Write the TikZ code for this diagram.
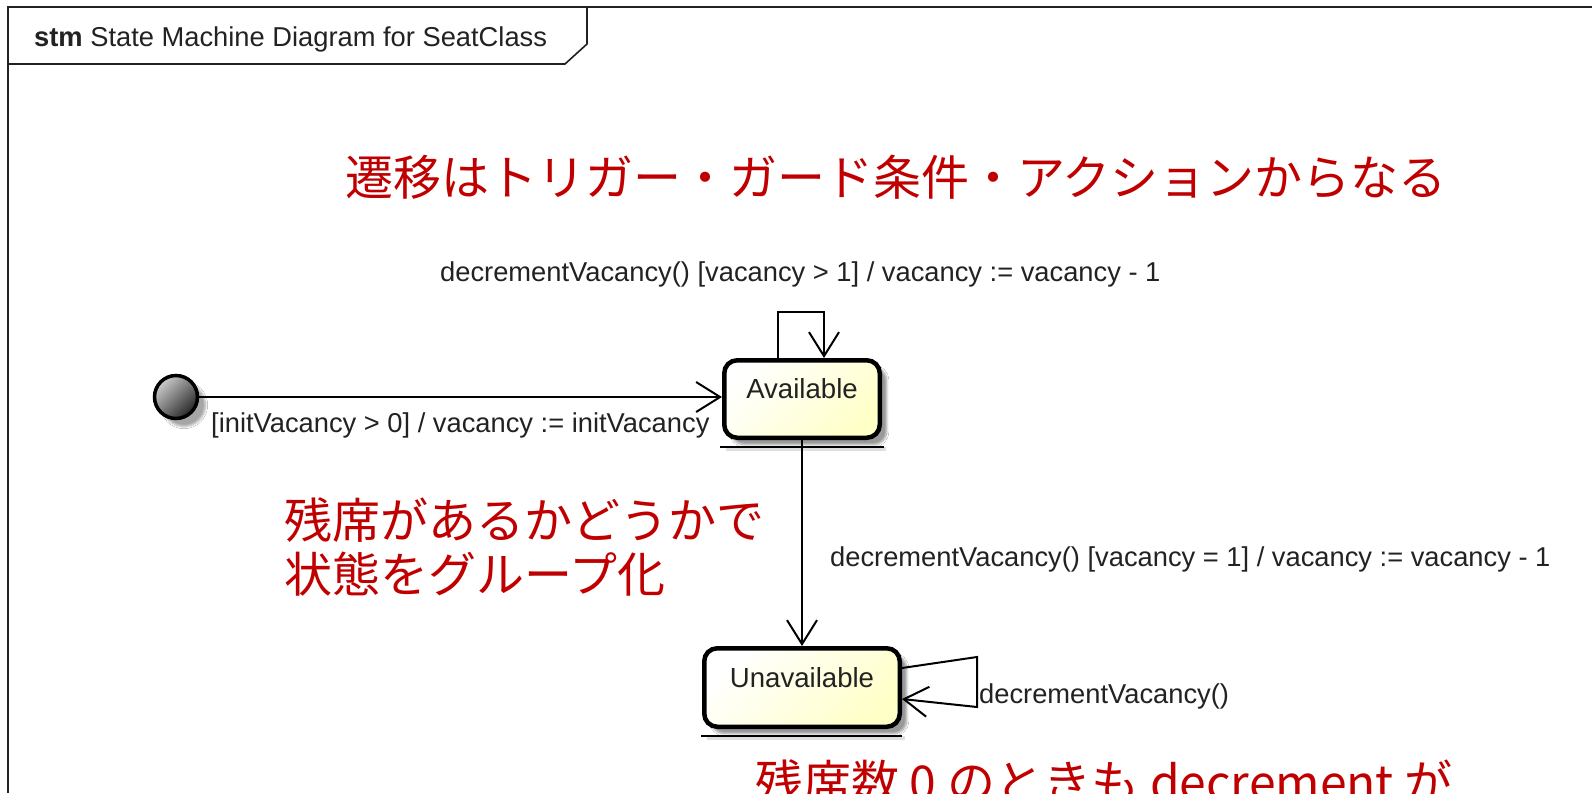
\documentclass[tikz,border=0pt]{standalone}
\usepackage{fontspec}
\setmainfont{Liberation Sans}
\newfontfamily\jpfont{Noto Sans CJK JP}
\usetikzlibrary{arrows.meta,shadows.blur,calc}
\definecolor{jpred}{RGB}{192,0,0}
\definecolor{stfill}{RGB}{255,255,200}
\definecolor{ink}{RGB}{34,34,34}
\begin{document}
\begin{tikzpicture}[x=1pt,y=-1pt,
  lbl/.style={font=\fontsize{27.3}{32}\selectfont, text=ink, inner sep=0pt, anchor=base west},
  note/.style={font=\jpfont\fontsize{48}{54}\selectfont, text=jpred, inner sep=0pt, anchor=base west},
  statebox/.style={draw=black, line width=4.5pt, rounded corners=13pt, top color=white, bottom color=stfill, shading angle=45, inner sep=0pt, font=\fontsize{27.6}{32}\selectfont, text=ink, blur shadow={shadow xshift=7pt, shadow yshift=-7pt, shadow blur steps=6, shadow opacity=40}},
  initstate/.style={circle, draw=black, line width=3.5pt, minimum size=43pt, inner sep=0pt, top color=gray!40, bottom color=black!85, shading angle=45, blur shadow={shadow xshift=8pt, shadow yshift=-8pt, shadow blur steps=6, shadow opacity=35}},
  conn/.style={draw=black, line width=2pt, -{Straight Barb[length=24pt,width=30pt]}},
  underl/.style={draw=black, line width=2pt},
  frameline/.style={draw=ink, line width=1.6pt}
]
\useasboundingbox (0,0) rectangle (1592,793);
\fill[white] (0,0) rectangle (1592,793);
% frame
\draw[frameline] (8,793) -- (8,7) -- (1592,7);
\draw[frameline] (8,64) -- (565,64) -- (587,44) -- (587,7);
\node[lbl] (title) at (34,46) {\textbf{stm} State Machine Diagram for SeatClass};
% notes
\node[note] (n1) at (345,195) {遷移はトリガー・ガード条件・アクションからなる};
\node[note] (n2) at (284,538) {残席があるかどうかで};
\node[note] (n3) at (284,592) {状態をグループ化};
\node[note] (n4) at (755,800) {残席数 0 のときも decrement が};
% underline shadows
\draw[gray!25, line width=4pt] (726,449) -- (886,449);
\draw[gray!25, line width=4pt] (707,738) -- (905,738);
% states
\node[statebox, minimum width=155.5pt, text height=38pt, text depth=39.5pt] (avail) at (802,399) {Available};
\node[statebox, minimum width=195.5pt, text height=39pt, text depth=39.5pt] (unav) at (802,687.5) {Unavailable};
\draw[underl] ($(avail.south west)+(-2,7)$) -- ($(avail.south east)+(2,7)$);
\draw[underl] ($(unav.south west)+(-1,7)$) -- ($(unav.south east)+(0,7)$);
\node[initstate] (init) at (176,397) {};
% transitions
\draw[conn] (init) -- (init -| avail.west);
\draw[conn] ($(avail.north)+(-24,0)$) -- ++(0,-46) -- ++(46,0) -- ($(avail.north)+(22,0)$);
\draw[conn] (avail.south) -- (unav.north);
\draw[conn] ($(unav.east)+(0,-19.5)$) -- (977,657) -- (977,707) -- ($(unav.east)+(0,11.5)$);
% labels
\node[lbl] (t1) at (440,281) {decrementVacancy() [vacancy > 1] / vacancy := vacancy - 1};
\node[lbl] (t0) at (211,432) {[initVacancy > 0] / vacancy := initVacancy};
\node[lbl] (t2) at (830,566) {decrementVacancy() [vacancy = 1] / vacancy := vacancy - 1};
\node[lbl] (t3) at (979,703) {decrementVacancy()};
\end{tikzpicture}
\end{document}
